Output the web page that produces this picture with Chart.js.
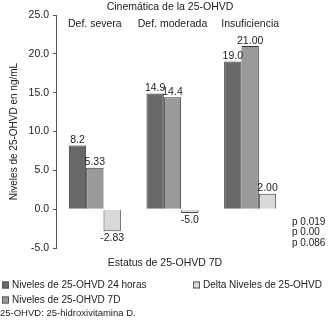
<!DOCTYPE html>
<html>
<head>
<meta charset="utf-8">
<script src="https://cdn.jsdelivr.net/npm/chart.js@4"></script>
<style>
  html, body { margin: 0; padding: 0; background: #fff; }
  #wrap { width: 328px; height: 324px; }
</style>
</head>
<body>
<div id="wrap"><canvas id="grafico" width="328" height="324"></canvas></div>
<script>
// datos
const categorias = ['Def. severa', 'Def. moderada', 'Insuficiencia'];
const niveles24h = [8.2, 14.9, 19.0];
const niveles7d = [5.33, 14.4, 21.0];
const delta = [-2.83, -0.5, 2.0];
const etiquetas24h = ['8.2', '14.9', '19.0'];
const etiquetas7d = ['5.33', '14.4', '21.00'];
const etiquetasDelta = ['-2.83', '-5.0', '2.00'];
const valoresP = ['p 0.019', 'p 0.00', 'p 0.086'];
const ticksY = [-5, 0, 5, 10, 15, 20, 25];

const fuente = '"Liberation Sans", Arial, sans-serif';
const colorTexto = '#222';

// etiquetas, categorias arriba, valores p, leyenda y nota
const textosExtra = {
    id: 'textosExtra',
    afterDatasetsDraw(chart) {
        const ctx = chart.ctx;
        const x = chart.scales.x;
        const listas = [etiquetas24h, etiquetas7d, etiquetasDelta];
        ctx.save();
        ctx.fillStyle = colorTexto;
        ctx.font = '10.5px ' + fuente;
        ctx.textAlign = 'center';

        chart.data.datasets.forEach((ds, i) => {
            const meta = chart.getDatasetMeta(i);
            meta.data.forEach((bar, j) => {
                const v = ds.data[j];
                if (v >= 0) {
                    ctx.textBaseline = 'bottom';
                    ctx.fillText(listas[i][j], bar.x, bar.y);
                } else {
                    ctx.textBaseline = 'top';
                    ctx.fillText(listas[i][j], bar.x, bar.y + 2);
                }
            });
        });

        // nombres de categorias dentro del area
        ctx.textBaseline = 'middle';
        categorias.forEach((c, j) => {
            ctx.fillText(c, x.getPixelForValue(j), 24);
        });

        // titulo
        ctx.fillText('Cinemática de la 25-OHVD', 170, 7);
        // titulo eje x
        ctx.fillText('Estatus de 25-OHVD 7D', 165, 263);

        // valores p
        ctx.textAlign = 'left';
        ctx.font = '10px ' + fuente;
        valoresP.forEach((p, k) => {
            ctx.fillText(p, 292, 222 + k * 10.5);
        });

        // leyenda
        const posLeyenda = [[2, 285], [2, 300], [193, 285]];
        chart.data.datasets.forEach((ds, i) => {
            const [lx, ly] = posLeyenda[i];
            ctx.fillStyle = ds.backgroundColor;
            ctx.fillRect(lx, ly - 3.5, 7, 7);
            ctx.strokeStyle = '#555';
            ctx.lineWidth = 1;
            ctx.strokeRect(lx + 0.5, ly - 3.5 + 0.5, 6, 6);
            ctx.fillStyle = colorTexto;
            ctx.fillText(ds.label, lx + 10, ly);
        });

        // nota
        ctx.font = '9.5px ' + fuente;
        ctx.fillText('25-OHVD: 25-hidroxivitamina D.', 0, 313);
        ctx.restore();
    }
};

const ctx = document.getElementById('grafico').getContext('2d');
window.graficoOHVD = new Chart(ctx, {
    type: 'bar',
    data: {
        labels: categorias,
        datasets: [
            {
                label: 'Niveles de 25-OHVD 24 horas',
                data: niveles24h,
                backgroundColor: '#686868',
                borderColor: '#333',
                borderWidth: 1
            },
            {
                label: 'Niveles de 25-OHVD 7D',
                data: niveles7d,
                backgroundColor: '#9a9a9a',
                borderColor: '#333',
                borderWidth: 1
            },
            {
                label: 'Delta Niveles de 25-OHVD',
                data: delta,
                backgroundColor: '#d9d9d9',
                borderColor: '#444',
                borderWidth: 1
            }
        ]
    },
    options: {
        responsive: false,
        animation: false,
        layout: { padding: { top: 15, bottom: 76, right: 39, left: 8 } },
        datasets: { bar: { categoryPercentage: 0.67, barPercentage: 1.0 } },
        plugins: {
            legend: { display: false },
            tooltip: { enabled: false }
        },
        scales: {
            x: { display: false },
            y: {
                min: -5,
                max: 25,
                afterBuildTicks(scale) {
                    scale.ticks = ticksY.map(v => ({ value: v }));
                },
                afterFit(scale) {
                    scale.width = 48;
                },
                ticks: {
                    color: colorTexto,
                    font: { family: fuente, size: 10.5 },
                    padding: 4,
                    callback: v => v.toFixed(1)
                },
                grid: {
                    drawOnChartArea: false,
                    drawTicks: true,
                    tickLength: 3,
                    color: '#555'
                },
                border: { display: true, color: '#555', width: 1 },
                title: {
                    display: true,
                    text: 'Niveles de 25-OHVD en ng/mL',
                    color: colorTexto,
                    font: { family: fuente, size: 10 },
                    padding: { top: 0, bottom: 0 }
                }
            }
        }
    },
    plugins: [textosExtra]
});
</script>
</body>
</html>
